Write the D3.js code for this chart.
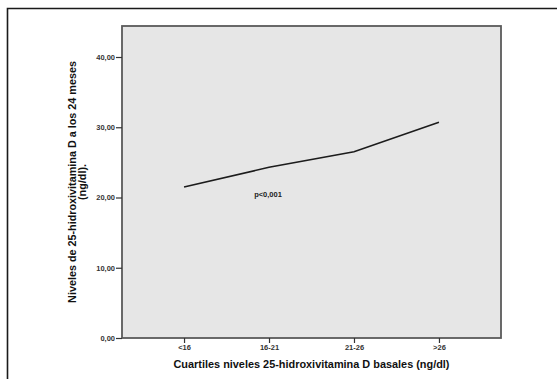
<!DOCTYPE html>
<html>
<head>
<meta charset="utf-8">
<script src="https://cdn.jsdelivr.net/npm/d3@7"></script>
<style>
  body { margin: 0; background: #fff; }
  text { font-family: "Liberation Sans", Arial, sans-serif; }
</style>
</head>
<body>
<div id="chart"></div>
<script>
const categories = ["<16", "16-21", "21-26", ">26"];
const values = [21.5, 24.3, 26.5, 30.7];
const yTicks = [0, 10, 20, 30, 40];
const annotation = "p<0,001";

const width = 557, height = 379;
const margin = { left: 122, top: 26, right: 56, bottom: 41 };

const svg = d3.select("#chart").append("svg")
    .attr("width", width)
    .attr("height", height);

// outer frame (cropped at right and bottom)
svg.append("path")
    .attr("d", `M7.5,${height} V8.5 H${width}`)
    .attr("fill", "none")
    .attr("stroke", "#1a1a1a")
    .attr("stroke-width", 1.6);

const x = d3.scalePoint()
    .domain(categories)
    .range([margin.left, width - margin.right])
    .padding(0.73);

const y = d3.scaleLinear()
    .domain([0, 40])
    .range([height - margin.bottom, 57]);

// plot background
svg.append("rect")
    .attr("x", margin.left)
    .attr("y", margin.top)
    .attr("width", width - margin.right - margin.left)
    .attr("height", height - margin.bottom - margin.top)
    .attr("fill", "#e6e6e6")
    .attr("stroke", "#5a5a5a")
    .attr("stroke-width", 1.8);

// y axis
const yAxis = svg.append("g")
    .attr("transform", `translate(${margin.left},0)`)
    .call(d3.axisLeft(y).tickValues(yTicks).tickSize(6).tickPadding(1)
        .tickFormat(d => d3.format(".2f")(d).replace(".", ",")));
yAxis.select(".domain").remove();
yAxis.selectAll("line").attr("stroke", "#333").attr("stroke-width", 1.2);
yAxis.selectAll("text")
    .attr("fill", "#333")
    .style("font-size", "7.5px")
    .style("font-weight", "bold");

// x axis
const xAxis = svg.append("g")
    .attr("transform", `translate(0,${height - margin.bottom})`)
    .call(d3.axisBottom(x).tickSize(5).tickPadding(2));
xAxis.select(".domain").remove();
xAxis.selectAll("line").attr("stroke", "#333").attr("stroke-width", 1.2);
xAxis.selectAll("text")
    .attr("fill", "#333")
    .style("font-size", "7.5px")
    .style("font-weight", "bold");

// line
const line = d3.line()
    .x((d, i) => x(categories[i]))
    .y(d => y(d));

svg.append("path")
    .datum(values)
    .attr("d", line)
    .attr("fill", "none")
    .attr("stroke", "#1c1c1c")
    .attr("stroke-width", 1.6);

// annotation
svg.append("text")
    .attr("x", x(categories[1]) - 1)
    .attr("y", 196.5)
    .attr("text-anchor", "middle")
    .attr("fill", "#222")
    .style("font-size", "7.5px")
    .style("font-weight", "bold")
    .text(annotation);

// axis titles
svg.append("text")
    .attr("x", (margin.left + width - margin.right) / 2)
    .attr("y", 368)
    .attr("text-anchor", "middle")
    .attr("fill", "#111")
    .style("font-size", "10.9px")
    .style("font-weight", "bold")
    .text("Cuartiles niveles 25-hidroxivitamina D basales (ng/dl)");

const yTitle = svg.append("text")
    .attr("transform", `translate(76,${(margin.top + height - margin.bottom) / 2}) rotate(-90)`)
    .attr("text-anchor", "middle")
    .attr("fill", "#111")
    .style("font-size", "10.8px")
    .style("font-weight", "bold");
yTitle.append("tspan").attr("x", 0).attr("dy", 0)
    .text("Niveles de 25-hidroxivitamina D a los 24 meses");
yTitle.append("tspan").attr("x", 0).attr("dy", "0.95em")
    .text("(ng/dl).");
</script>
</body>
</html>
